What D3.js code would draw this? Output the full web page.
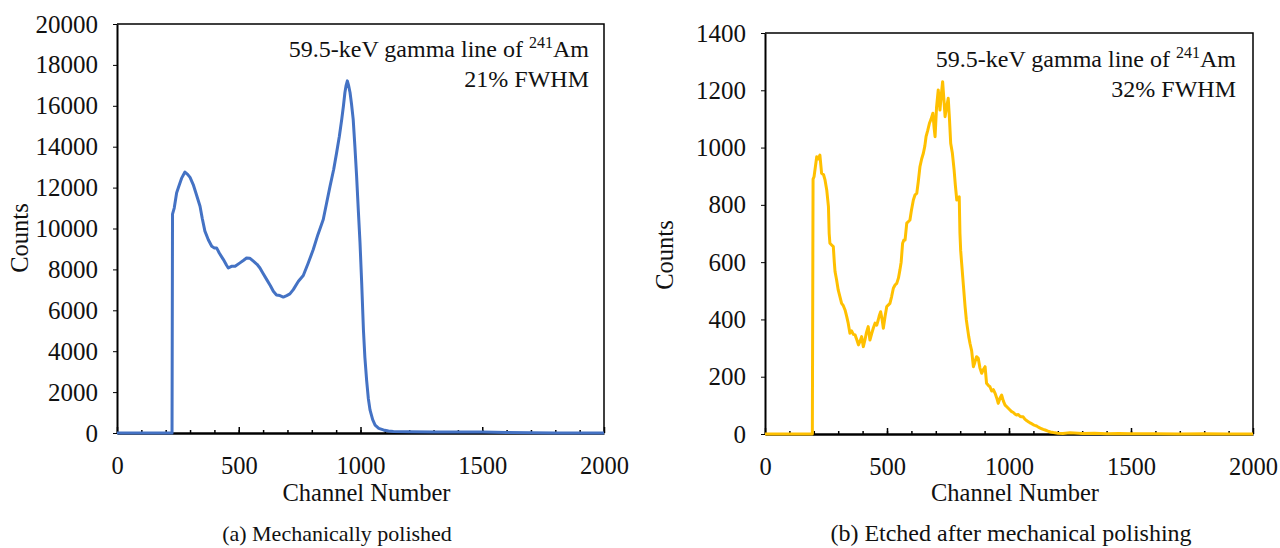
<!DOCTYPE html>
<html>
<head>
<meta charset="utf-8">
<script src="https://cdn.jsdelivr.net/npm/d3@7"></script>
<style>
  body { margin: 0; background: #fff; }
  svg { font-family: "Liberation Serif", "Times New Roman", serif; }
</style>
</head>
<body>
<svg width="1280" height="548"></svg>
<script>
// (a) mechanically polished
var chA = [0, 100, 200, 226, 228, 235, 245, 255, 265, 279, 290, 300, 313, 325, 341, 350, 361, 375, 389, 400,
  409, 420, 437, 450, 457, 470, 485, 505, 520, 532, 545, 560, 575, 587, 600, 615, 630, 642, 655, 669,
  683, 697, 710, 724, 745, 765, 785, 806, 825, 847, 860, 875, 890, 902, 913, 923, 930, 936, 941, 946,
  951, 957, 963, 970, 977, 984, 991, 998, 1005, 1012, 1018, 1025, 1032, 1039, 1050, 1060, 1075, 1094, 1115, 1135,
  1200, 1300, 1400, 1500, 1600, 1700, 1800, 1900, 2000];
var countsA = [0, 0, 0, 0, 10700, 11000, 11750, 12100, 12450, 12760, 12650, 12500, 12150, 11700, 11090, 10500, 9870, 9450, 9130, 9050,
  9050, 8800, 8480, 8200, 8070, 8150, 8150, 8320, 8450, 8560, 8550, 8400, 8250, 8070, 7800, 7500, 7200, 6930, 6750, 6720,
  6650, 6720, 6800, 7010, 7420, 7700, 8300, 8970, 9700, 10440, 11200, 12070, 12900, 13710, 14500, 15340, 16000, 16650, 17000, 17220,
  17000, 16650, 16100, 15340, 14000, 12560, 10900, 9300, 7300, 5050, 3700, 2600, 1700, 1130, 650, 390, 230, 150, 100, 70,
  60, 55, 50, 45, 30, 15, 5, 0, 0];

// (b) etched after mechanical polishing
var chB = [0, 100, 194, 197, 201, 206, 212, 218, 225, 232, 240, 246, 253, 260, 263, 266, 273, 280, 284, 287,
  293, 300, 307, 314, 321, 328, 335, 341, 348, 355, 362, 369, 376, 383, 390, 396, 403, 410, 416, 423,
  430, 437, 444, 451, 458, 464, 469, 474, 480, 485, 492, 499, 505, 512, 519, 526, 533, 540, 547, 553,
  558, 564, 569, 574, 581, 587, 594, 600, 608, 615, 622, 628, 635, 642, 649, 655, 660, 667, 674, 681,
  688, 693, 697, 703, 710, 714, 717, 722, 728, 733, 738, 744, 751, 756, 761, 768, 775, 780, 786, 791,
  796, 799, 802, 806, 813, 820, 825, 829, 835, 840, 847, 854, 860, 867, 874, 881, 888, 895, 902, 908,
  915, 922, 929, 936, 943, 950, 956, 963, 970, 977, 984, 991, 997, 1004, 1011, 1018, 1024, 1031, 1038, 1045,
  1051, 1058, 1065, 1072, 1079, 1086, 1093, 1100, 1106, 1113, 1120, 1130, 1140, 1148, 1160, 1170, 1182, 1200, 1221, 1250,
  1300, 1350, 1400, 1450, 1500, 1600, 1700, 1800, 1900, 2000];
var countsB = [0, 0, 0, 890, 898, 930, 968, 960, 974, 910, 905, 887, 852, 794, 700, 666, 660, 654, 600, 567,
  540, 503, 480, 456, 448, 433, 410, 387, 352, 360, 348, 346, 330, 311, 325, 340, 305, 330, 355, 375,
  328, 350, 370, 387, 380, 398, 415, 427, 400, 369, 410, 445, 450, 456, 480, 509, 520, 526, 545, 573,
  600, 666, 677, 677, 736, 741, 747, 780, 817, 835, 840, 880, 933, 960, 980, 1005, 1038, 1060, 1085, 1100,
  1120, 1070, 1038, 1140, 1201, 1160, 1131, 1180, 1230, 1170, 1108, 1140, 1172, 1100, 1015, 980, 922, 870, 817, 820,
  828, 700, 640, 596, 520, 445, 400, 375, 340, 317, 290, 235, 250, 270, 264, 230, 212, 225, 235, 177,
  170, 165, 150, 155, 142, 125, 107, 125, 136, 115, 101, 95, 90, 84, 78, 75, 70, 66, 68, 62,
  60, 60, 52, 47, 43, 39, 36, 32, 30, 28, 24, 20, 16, 14, 10, 7, 5, 3, 2, 4,
  2, 3, 1, 2, 1, 1, 0, 1, 0, 0];

var xTicks = [0, 500, 1000, 1500, 2000];
var yTicksA = [0, 2000, 4000, 6000, 8000, 10000, 12000, 14000, 16000, 18000, 20000];
var yTicksB = [0, 200, 400, 600, 800, 1000, 1200, 1400];

var svg = d3.select('svg');
var fmt = d3.format('d');

function drawPanel(p)
{
    var x = d3.scaleLinear().domain([0, 2000]).range([p.left, p.right]);
    var y = d3.scaleLinear().domain([0, p.yMax]).range([p.bottom, p.top]);
    var g = svg.append('g');

    // plot frame (top and right)
    g.append('path')
      .attr('d', 'M' + p.left + ',' + p.top + 'H' + p.right + 'V' + p.bottom)
      .attr('fill', 'none').attr('stroke', '#000').attr('stroke-width', 1.5);

    var line = d3.line()
      .x(function(d, i) { return x(p.ch[i]); })
      .y(function(d) { return y(d); });

    // y axis
    var ya = g.append('g')
      .attr('transform', 'translate(' + p.left + ',0)')
      .call(d3.axisLeft(y).tickValues(p.yTicks).tickFormat(fmt).tickSize(4).tickPadding(15).tickSizeOuter(0));
    ya.select('.domain').attr('stroke-width', 2);
    ya.selectAll('text').attr('font-size', 25).attr('fill', '#111').style('font-family', 'Liberation Serif');

    // x axis: minor ticks inside
    var xm = g.append('g')
      .attr('transform', 'translate(0,' + p.bottom + ')')
      .call(d3.axisBottom(x).tickValues(d3.range(100, 2000, 100)).tickSize(-3).tickFormat('').tickSizeOuter(0));
    xm.select('.domain').remove();
    xm.selectAll('line').attr('stroke-width', 1.5);

    var xa = g.append('g')
      .attr('transform', 'translate(0,' + p.bottom + ')')
      .call(d3.axisBottom(x).tickValues(xTicks).tickFormat(fmt).tickSize(-6).tickPadding(24).tickSizeOuter(0));
    xa.select('.domain').attr('stroke-width', 2.5);
    xa.selectAll('line').attr('stroke-width', 1.5);
    xa.selectAll('text').attr('font-size', 24.5).attr('fill', '#111').style('font-family', 'Liberation Serif');

    // the spectrum, on top of the axis line
    g.append('path')
      .datum(p.counts)
      .attr('fill', 'none')
      .attr('stroke', p.color)
      .attr('stroke-width', 3)
      .attr('stroke-linejoin', 'round')
      .attr('d', line);

    g.append('text')
      .attr('x', (p.left + p.right) / 2 + 6).attr('y', 501)
      .attr('text-anchor', 'middle').attr('font-size', 24.5).attr('fill', '#111')
      .text('Channel Number');

    g.append('text')
      .attr('transform', 'translate(' + p.yLabelX + ',' + p.yLabelY + ') rotate(-90)')
      .attr('text-anchor', 'middle').attr('font-size', 24.5).attr('fill', '#111')
      .text('Counts');

    var note = g.append('text')
      .attr('x', p.noteX).attr('y', p.noteY)
      .attr('text-anchor', 'end').attr('font-size', 24).attr('fill', '#111');
    note.append('tspan').text('59.5-keV gamma line of ');
    note.append('tspan').attr('font-size', 16).attr('dy', -9).text('241');
    note.append('tspan').attr('dy', 9).text('Am');

    g.append('text')
      .attr('x', p.noteX).attr('y', p.noteY + 30)
      .attr('text-anchor', 'end').attr('font-size', 24).attr('fill', '#111')
      .text(p.fwhm);

    g.append('text')
      .attr('x', p.capX).attr('y', 541)
      .attr('text-anchor', 'middle').attr('font-size', p.capSize).attr('fill', '#111')
      .text(p.caption);
}

drawPanel({
    left: 117, right: 604, top: 24, bottom: 433, yMax: 20000,
    ch: chA, counts: countsA, color: '#4472C4', yTicks: yTicksA,
    yLabelX: 28, yLabelY: 238, noteX: 589, noteY: 57, fwhm: '21% FWHM',
    capX: 337, capSize: 22, caption: '(a) Mechanically polished'
});

drawPanel({
    left: 765, right: 1253, top: 33, bottom: 434, yMax: 1400,
    ch: chB, counts: countsB, color: '#FFC000', yTicks: yTicksB,
    yLabelX: 673, yLabelY: 255, noteX: 1236, noteY: 67, fwhm: '32% FWHM',
    capX: 1011, capSize: 24, caption: '(b) Etched after mechanical polishing'
});
</script>
</body>
</html>
